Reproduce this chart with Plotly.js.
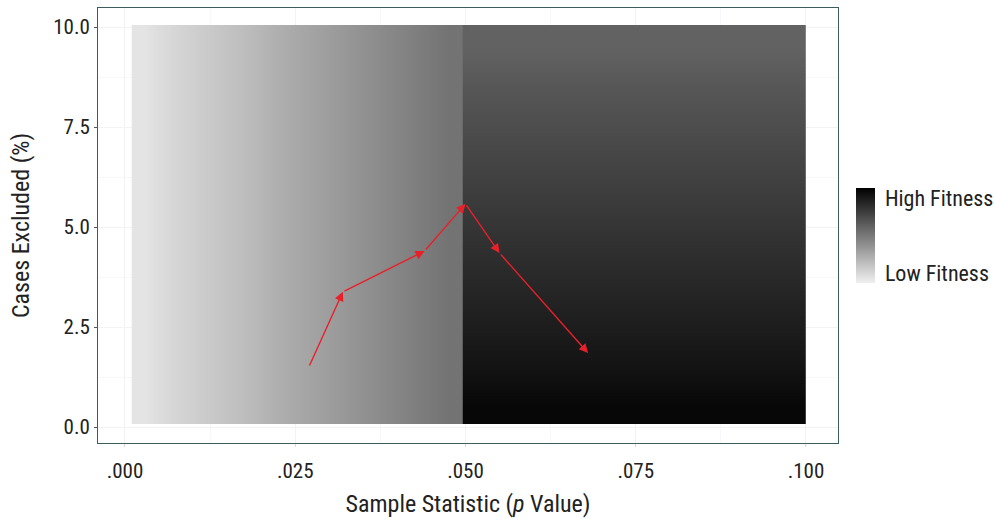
<!DOCTYPE html>
<html>
<head>
<meta charset="utf-8">
<script src="https://cdn.plot.ly/plotly-3.0.1.min.js"></script>
<style>html,body{margin:0;padding:0;background:#fff;}#chart{width:994px;height:519px;}</style>
</head>
<body>
<div id="chart"></div>
<script>
// Left region (p < .05): fitness varies with p value (column edges and fitness per column)
var leftPEdges = [0.001, 0.005, 0.010, 0.015, 0.020, 0.025, 0.030, 0.035, 0.040, 0.045, 0.050];
var leftFitness = [0.05, 0.11, 0.16, 0.21, 0.27, 0.32, 0.37, 0.42, 0.47, 0.52];
var leftYEdges = [0.08, 10.05];

// Right region (p >= .05): fitness varies with cases excluded (row edges and fitness per row)
var rightPEdges = [0.0496, 0.100];
var rightYEdges = [0.08, 1, 2, 3, 4, 5, 6, 7, 8, 9, 10.05];
var rightFitness = [0.97, 0.92, 0.88, 0.84, 0.80, 0.76, 0.72, 0.68, 0.64, 0.59];

// Red path of the researcher's search
var pathP = [0.027, 0.032, 0.044, 0.050, 0.055, 0.068];
var pathExcluded = [1.50, 3.38, 4.40, 5.58, 4.35, 1.85];

// Axis ticks
var xTickVals = [0, 0.025, 0.05, 0.075, 0.1];
var xTickText = ['.000', '.025', '.050', '.075', '.100'];
var yTickVals = [0, 2.5, 5, 7.5, 10];
var yTickText = ['0.0', '2.5', '5.0', '7.5', '10.0'];
var legendTickVals = [0.105, 0.895];
var legendTickText = ['Low Fitness', 'High Fitness'];

var FONT = '"Liberation Sans Narrow", "Roboto Condensed", Roboto, Arial, sans-serif';
var scale = [[0, 'rgb(240,240,240)'], [1, 'rgb(0,0,0)']];

var leftZ = [leftFitness];
var rightZ = rightFitness.map(function (v) { return [v]; });

var traces = [
  {
    type: 'heatmap', x: leftPEdges, y: leftYEdges, z: leftZ,
    zmin: 0, zmax: 1, colorscale: scale, zsmooth: 'best', showscale: false,
    hoverinfo: 'skip'
  },
  {
    type: 'heatmap', x: rightPEdges, y: rightYEdges, z: rightZ,
    zmin: 0, zmax: 1, colorscale: scale, zsmooth: 'best', showscale: true,
    hoverinfo: 'skip',
    colorbar: {
      x: 1.0243, xanchor: 'left', xpad: 0,
      y: 0.477, yanchor: 'middle', ypad: 0,
      thickness: 19, lenmode: 'pixels', len: 95,
      outlinewidth: 0,
      tickvals: legendTickVals, ticktext: legendTickText,
      ticks: 'outside', ticklen: 6, tickcolor: 'rgba(0,0,0,0)',
      tickfont: {family: FONT, size: 22, color: '#222'}
    }
  }
];

var annotations = [];
for (var i = 1; i < pathP.length; i++) {
  annotations.push({
    x: pathP[i], y: pathExcluded[i], ax: pathP[i - 1], ay: pathExcluded[i - 1],
    xref: 'x', yref: 'y', axref: 'x', ayref: 'y',
    text: '', showarrow: true, arrowhead: 2, arrowsize: 1.3, arrowwidth: 1.4,
    arrowcolor: '#e8202a', standoff: 0, startstandoff: 0
  });
}

var layout = {
  width: 994, height: 519,
  margin: {l: 98, r: 156, t: 8, b: 76, autoexpand: false},
  paper_bgcolor: '#ffffff', plot_bgcolor: '#ffffff',
  font: {family: FONT, size: 20, color: '#222'},
  showlegend: false,
  xaxis: {
    range: [-0.00396, 0.1047], tickvals: xTickVals, ticktext: xTickText,
    showline: true, mirror: true, linecolor: '#3d5c5c', linewidth: 1,
    showgrid: true, gridcolor: '#f1f3f5', gridwidth: 1,
    minor: {dtick: 0.0125, showgrid: true, gridcolor: '#f7f8f9'},
    zeroline: false, ticks: 'outside', ticklen: 3, tickcolor: '#e6d6cc',
    ticklabelstandoff: 6,
    tickfont: {family: FONT, size: 21, color: '#222'},
    title: {text: 'Sample Statistic (<i>p</i> Value)', font: {family: FONT, size: 24, color: '#222'}, standoff: 12}
  },
  yaxis: {
    range: [-0.4, 10.475], tickvals: yTickVals, ticktext: yTickText,
    showline: true, mirror: true, linecolor: '#3d5c5c', linewidth: 1,
    showgrid: true, gridcolor: '#f1f3f5', gridwidth: 1,
    minor: {dtick: 1.25, showgrid: true, gridcolor: '#f7f8f9'},
    zeroline: false, ticks: 'outside', ticklen: 3, tickcolor: '#555',
    tickfont: {family: FONT, size: 21, color: '#222'},
    title: {text: 'Cases Excluded (%)', font: {family: FONT, size: 24, color: '#222'}, standoff: 16}
  },
  annotations: annotations
};

Plotly.newPlot('chart', traces, layout, {staticPlot: true, displayModeBar: false});
</script>
</body>
</html>
